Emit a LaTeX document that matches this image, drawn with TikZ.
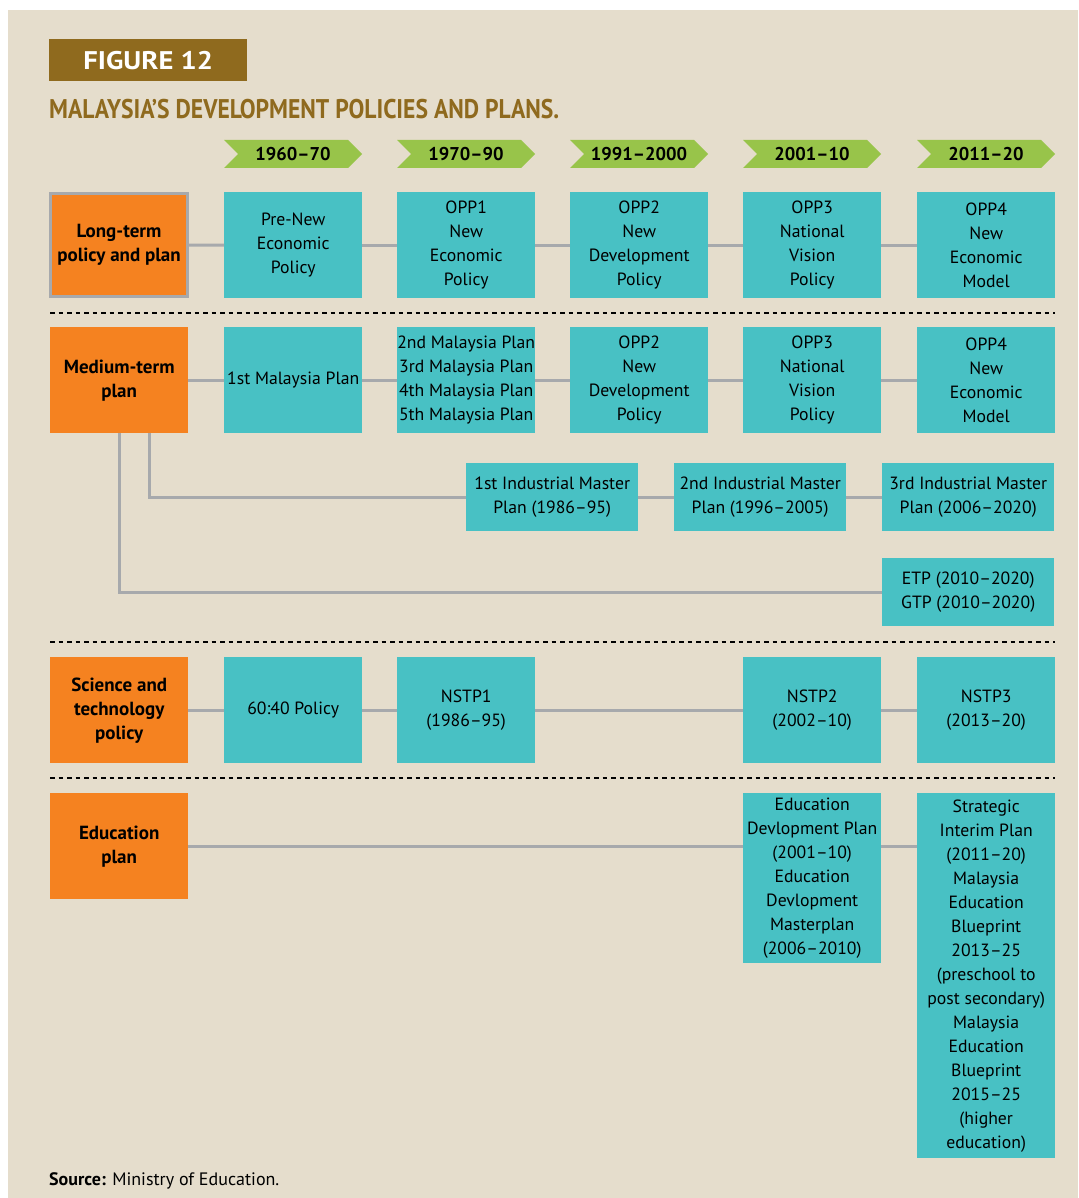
\documentclass[tikz,border=0pt]{standalone}
\usepackage{fontspec}
\setmainfont{PT Sans}
\newfontfamily\condfont[FakeStretch=0.875]{PT Sans}
\newfontfamily\figfont[FakeStretch=1.12]{PT Sans}
\usetikzlibrary{shapes.symbols}
\definecolor{bg}{HTML}{E5DDCC}
\definecolor{orng}{HTML}{F58220}
\definecolor{tealbox}{HTML}{48C1C4}
\definecolor{grn}{HTML}{98C44A}
\definecolor{gold}{HTML}{8F6A1E}
\definecolor{lgray}{HTML}{A7A9AC}
\begin{document}
\begin{tikzpicture}[x=1pt,y=-1pt,
  box/.style={anchor=north west, inner sep=0pt, align=center, font=\fontsize{17.7}{24}\selectfont},
  cat/.style={box, fill=orng, minimum width=138pt, minimum height=106pt, font=\bfseries\fontsize{19}{24}\selectfont},
  item/.style={box, fill=tealbox, minimum width=138pt, minimum height=106pt},
  wide/.style={box, fill=tealbox, minimum width=172pt, minimum height=68pt},
  year/.style={signal, signal to=east, signal from=west, fill=grn, minimum width=138pt, minimum height=28pt, inner sep=0pt, font=\bfseries\fontsize{18.5}{20}\selectfont},
  link/.style={draw=lgray, line width=3pt},
  sep/.style={line width=2.5pt, dash pattern=on 4.5pt off 4pt},
]
\useasboundingbox (0,0) rectangle (1078,1198);
\fill[white] (0,0) rectangle (1078,1198);
\fill[bg] (8,10) rectangle (1078,1198);

\node[fill=gold, anchor=north west, minimum width=198pt, minimum height=42pt, inner sep=0pt, text=white, font=\figfont\bfseries\fontsize{25.5}{25.5}\selectfont] (fig) at (49,39) {FIGURE 12};
\node[anchor=base west, inner sep=0pt, text=gold, font=\condfont\bfseries\fontsize{27}{27}\selectfont] (title) at (49,119) {MALAYSIA’S DEVELOPMENT POLICIES AND PLANS.};

\node[year] (y1) at (293,154) {1960–70};
\node[year] (y2) at (466,154) {1970–90};
\node[year] (y3) at (639,154) {1991–2000};
\node[year] (y4) at (812,154) {2001–10};
\node[year] (y5) at (986,154) {2011–20};

% Row 1
\node[cat, draw=lgray, line width=3pt, minimum width=137pt, minimum height=103pt] (c1) at (49,192) {Long-term\\policy and plan};
\node[item] (a1) at (224,192) {Pre-New\\Economic\\Policy};
\node[item] (a2) at (397,192) {OPP1\\New\\Economic\\Policy};
\node[item] (a3) at (570,192) {OPP2\\New\\Development\\Policy};
\node[item] (a4) at (743,192) {OPP3\\National\\Vision\\Policy};
\node[item] (a5) at (917,192) {OPP4\\New\\Economic\\Model};
\draw[link] (c1.east) -- (a1.west);
\draw[link] (a1.east) -- (a2.west);
\draw[link] (a2.east) -- (a3.west);
\draw[link] (a3.east) -- (a4.west);
\draw[link] (a4.east) -- (a5.west);

\draw[sep] (50,313) -- (1055,313);

% Row 2
\node[cat] (c2) at (50,327) {Medium-term\\plan};
\node[item] (b1) at (224,327) {1st Malaysia Plan};
\node[item] (b2) at (397,327) {2nd Malaysia Plan\\3rd Malaysia Plan\\4th Malaysia Plan\\5th Malaysia Plan};
\node[item] (b3) at (570,327) {OPP2\\New\\Development\\Policy};
\node[item] (b4) at (743,327) {OPP3\\National\\Vision\\Policy};
\node[item] (b5) at (917,327) {OPP4\\New\\Economic\\Model};
\draw[link] (c2.east) -- (b1.west);
\draw[link] (b1.east) -- (b2.west);
\draw[link] (b2.east) -- (b3.west);
\draw[link] (b3.east) -- (b4.west);
\draw[link] (b4.east) -- (b5.west);

\node[wide] (i1) at (466,463) {1st Industrial Master\\Plan (1986–95)};
\node[wide] (i2) at (674,463) {2nd Industrial Master\\Plan (1996–2005)};
\node[wide] (i3) at (882,463) {3rd Industrial Master\\Plan (2006–2020)};
\node[wide] (e1) at (882,558) {ETP (2010–2020)\\GTP (2010–2020)};
\draw[link] ([xshift=30pt]c2.south) |- (i1.west);
\draw[link] (i1.east) -- (i2.west);
\draw[link] (i2.east) -- (i3.west);
\draw[link] (c2.south) |- (e1.west);

\draw[sep] (50,642) -- (1055,642);

% Row 3
\node[cat] (c3) at (50,657) {Science and\\technology\\policy};
\node[item] (s1) at (224,657) {60:40 Policy};
\node[item] (s2) at (397,657) {NSTP1\\(1986–95)};
\node[item] (s4) at (743,657) {NSTP2\\(2002–10)};
\node[item] (s5) at (917,657) {NSTP3\\(2013–20)};
\draw[link] (c3.east) -- (s1.west);
\draw[link] (s1.east) -- (s2.west);
\draw[link] (s2.east) -- (s4.west);
\draw[link] (s4.east) -- (s5.west);

\draw[sep] (50,778) -- (1055,778);

% Row 4
\node[cat] (c4) at (50,793) {Education\\plan};
\node[item, minimum height=170pt] (d4) at (743,793) {Education\\Devlopment Plan\\(2001–10)\\Education\\Devlopment\\Masterplan\\(2006–2010)};
\node[item, minimum height=365pt] (d5) at (917,793) {Strategic\\Interim Plan\\(2011–20)\\Malaysia\\Education\\Blueprint\\2013–25\\(preschool to\\post secondary)\\Malaysia\\Education\\Blueprint\\2015–25\\(higher\\education)};
\draw[link] (c4.east) -- (c4.east -| d4.west);
\draw[link] (d4.east |- c4.east) -- (d5.west |- c4.east);

\node[anchor=base west, inner sep=0pt, font=\fontsize{18}{20}\selectfont] (src) at (49,1185) {\textbf{Source:} Ministry of Education.};
\end{tikzpicture}
\end{document}
